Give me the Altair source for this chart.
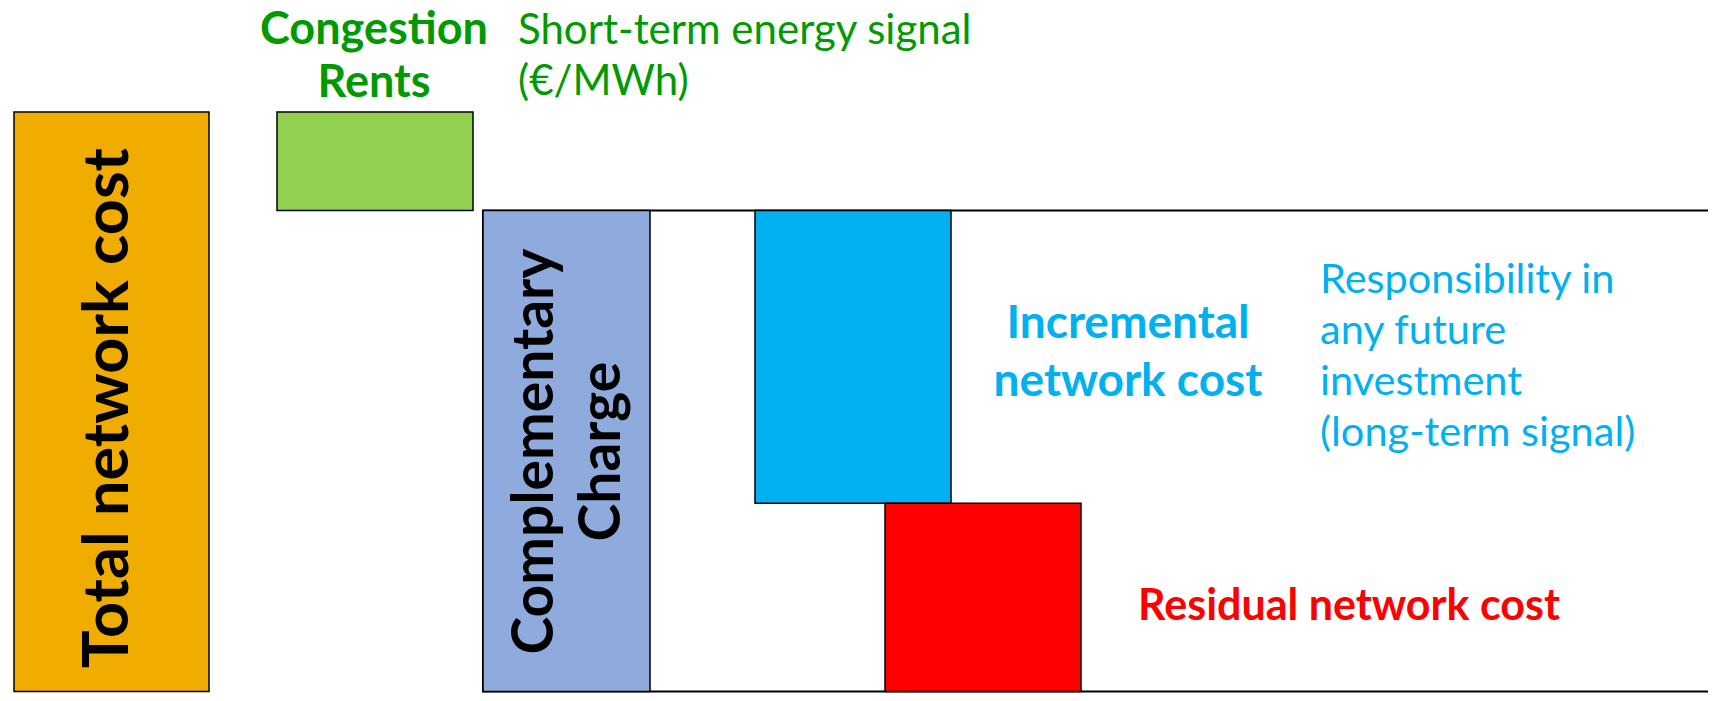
import altair as alt
import pandas as pd

# ---- data: cost components as levels of total network cost (total = 100) ----
components = ["Total network cost", "Congestion Rents", "Complementary Charge",
              "Incremental network cost", "Residual network cost"]
level_low = [0, 83, 0, 32.5, 0]
level_high = [100, 100, 83, 83, 32.5]

# ---- layout / style (kept apart from the data) ----
bar_left = [14, 277, 483, 755, 885]
bar_right = [209, 473, 650, 951, 1081]
bar_fill = ["#F0AD00", "#92D050", "#8FAADC", "#00B0F0", "#FF0000"]

bars = pd.DataFrame({
    "component": components,
    "low": level_low,
    "high": level_high,
    "x0": bar_left,
    "x1": bar_right,
    "fill": bar_fill,
})

# complementary-charge region outline (top = complementary level, bottom = 0)
region = pd.DataFrame({"low": [level_low[2]], "high": [level_high[2]],
                       "x0": [bar_left[2]], "x1": [1760]})

W, H = 1700, 685
xscale = alt.Scale(domain=[8, 1708], range=[0, W], nice=False, zero=False)
yscale = alt.Scale(domain=[-0.26, 117.94], nice=False, zero=False)

X = lambda f: alt.X(f, type="quantitative", scale=xscale, axis=None)
Y = lambda f: alt.Y(f, type="quantitative", scale=yscale, axis=None)

outline = alt.Chart(region).mark_rect(fill=None, stroke="black", strokeWidth=2).encode(
    x=X("x0"), x2="x1", y=Y("low"), y2="high")

rects = alt.Chart(bars).mark_rect(stroke="black", strokeWidth=1.5).encode(
    x=X("x0"), x2="x1", y=Y("low"), y2="high",
    fill=alt.Fill("fill:N", scale=None))

# ---- annotations ----
green_bold = pd.DataFrame({"t": ["Congestion", "Rents"], "x": [374, 374], "y": [111.8, 102.6]})
green_reg = pd.DataFrame({"t": ["Short-term energy signal", "(€/MWh)"], "x": [518, 518], "y": [111.8, 102.9]})
cyan_bold = pd.DataFrame({"t": ["Incremental", "network cost"], "x": [1128, 1128], "y": [61.0, 51.0]})
cyan_reg = pd.DataFrame({"t": ["Responsibility in", "any future", "investment", "(long-term signal)"],
                         "x": [1320] * 4, "y": [68.8, 60.0, 51.2, 42.4]})
red_bold = pd.DataFrame({"t": ["Residual network cost"], "x": [1349], "y": [12.3]})
total_lbl = pd.DataFrame({"t": ["Total network cost"], "x": [128], "y": [48.9]})
comp_lbl = pd.DataFrame({"t": ["Complementary", "Charge"], "x": [553, 620], "y": [41.4, 41.4]})

FONT = "Lato"

def txt(df, color, size, weight, align, angle=0):
    kw = dict(font=FONT, fontSize=size, fontWeight=weight, color=color,
              align=align, baseline="alphabetic")
    if angle:
        kw["angle"] = angle
    return alt.Chart(df).mark_text(**kw).encode(x=X("x"), y=Y("y"), text="t:N")

layers = [
    outline,
    rects,
    txt(green_bold, "#009A00", 45, "bold", "center"),
    txt(green_reg, "#009A00", 42, "normal", "left"),
    txt(cyan_bold, "#00B0F0", 46, "bold", "center"),
    txt(cyan_reg, "#00B0F0", 41.5, "normal", "left"),
    txt(red_bold, "#FF0000", 43, "bold", "center"),
    txt(total_lbl, "black", 63, "bold", "center", 270),
    txt(comp_lbl, "black", 57, "bold", "center", 270),
]

chart = alt.layer(*layers).properties(
    width=W, height=H, padding=0,
    autosize=alt.AutoSizeParams(type="none"),
    background="white",
).configure_view(strokeWidth=0)

chart.save("out.html", embed_options={"renderer": "svg", "actions": False})
